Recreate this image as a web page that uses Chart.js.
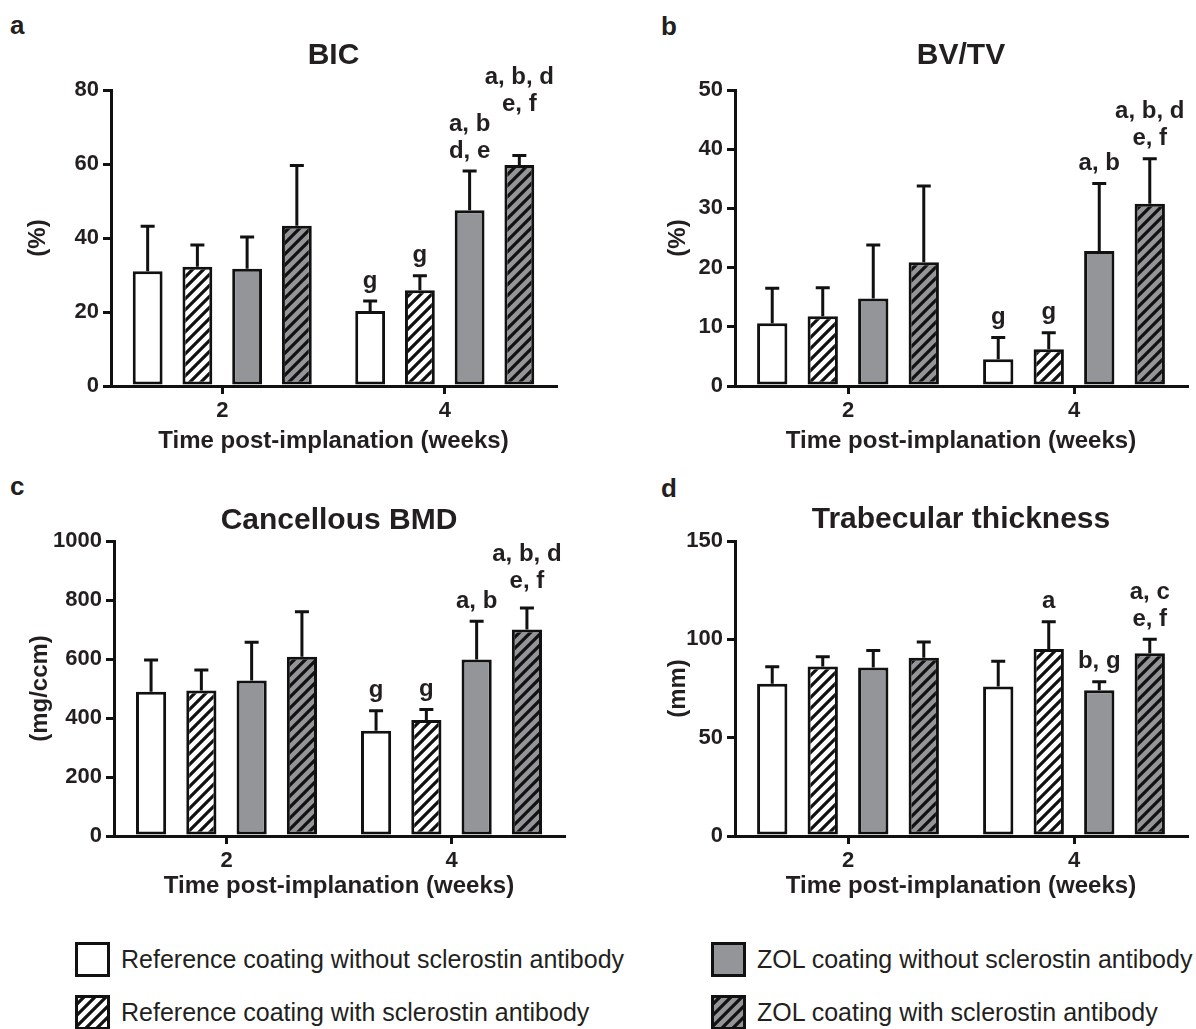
<!DOCTYPE html>
<html>
<head>
<meta charset="utf-8">
<script src="https://cdn.jsdelivr.net/npm/chart.js@4.4.1/dist/chart.umd.min.js"></script>
<style>
  body { margin: 0; background: #fff; }
  #page { position: relative; width: 1196px; height: 1029px; overflow: hidden;
          font-family: 'Liberation Sans', Arial, sans-serif; color: #231f20; }
  #page canvas.panel { position: absolute; }
  .letter { position: absolute; font-weight: bold; font-size: 26px; line-height: 26px; }
  .leg { position: absolute; display: flex; align-items: center; height: 35px; font-size: 25px; white-space: nowrap; }
  .leg canvas { margin-right: 11px; }
</style>
</head>
<body>
<div id="page">
  <div class="letter" style="left:10px;top:12px">a</div>
  <div class="letter" style="left:661px;top:13px">b</div>
  <div class="letter" style="left:10px;top:473px">c</div>
  <div class="letter" style="left:661px;top:475px">d</div>

  <canvas class="panel" id="bic" width="598" height="470" style="left:0;top:0"></canvas>
  <canvas class="panel" id="bvtv" width="598" height="470" style="left:598px;top:0"></canvas>
  <canvas class="panel" id="bmd" width="598" height="440" style="left:0;top:470px"></canvas>
  <canvas class="panel" id="tbth" width="598" height="440" style="left:598px;top:470px"></canvas>

  <div class="leg" style="left:75px;top:942px"><canvas width="35" height="35" data-k="0"></canvas>Reference coating without sclerostin antibody</div>
  <div class="leg" style="left:75px;top:995px"><canvas width="35" height="35" data-k="1"></canvas>Reference coating with sclerostin antibody</div>
  <div class="leg" style="left:711px;top:942px"><canvas width="35" height="35" data-k="2"></canvas>ZOL coating without sclerostin antibody</div>
  <div class="leg" style="left:711px;top:995px"><canvas width="35" height="35" data-k="3"></canvas>ZOL coating with sclerostin antibody</div>
</div>

<script>
// groups (one dataset each), weeks on the x axis
const groups = [
  'Reference coating without sclerostin antibody',
  'Reference coating with sclerostin antibody',
  'ZOL coating without sclerostin antibody',
  'ZOL coating with sclerostin antibody'
];
const weeks = ['2', '4'];

// mean and SD per group, [week 2, week 4]
const bicMean = [[31.0, 20.3], [32.2, 25.9], [31.7, 47.5], [43.3, 59.7]];
const bicSd   = [[12.2, 2.7],  [5.9, 3.9],   [8.6, 10.6],  [16.3, 2.6]];
const bicMarks = [[[], ['g']], [[], ['g']], [[], ['a, b', 'd, e']], [[], ['a, b, d', 'e, f']]];

const bvtvMean = [[10.6, 4.5], [11.8, 6.2], [14.8, 22.8], [20.9, 30.8]];
const bvtvSd   = [[5.9, 3.7],  [4.8, 2.8],  [9.0, 11.4],  [12.9, 7.6]];
const bvtvMarks = [[[], ['g']], [[], ['g']], [[], ['a, b']], [[], ['a, b, d', 'e, f']]];

const bmdMean = [[489, 357], [493, 393], [527, 598], [608, 700]];
const bmdSd   = [[108, 68],  [70, 36],   [130, 130], [152, 73]];
const bmdMarks = [[[], ['g']], [[], ['g']], [[], ['a, b']], [[], ['a, b, d', 'e, f']]];

const tbMean = [[77.4, 76.0], [86.2, 95.1], [85.7, 74.1], [90.6, 92.9]];
const tbSd   = [[8.6, 12.9],  [4.9, 13.8],  [8.6, 4.3],   [8.1, 7.1]];
const tbMarks = [[[], []], [[], ['a']], [[], ['b, g']], [[], ['a, c', 'e, f']]];

const INK = '#231f20';
const LINE = '#111111';
const GRAY = '#939598';
const FONT = "'Liberation Sans', Arial, sans-serif";

Chart.defaults.font.family = FONT;
Chart.defaults.color = INK;

function hatch(bg) {
  const P = 11;
  const c = document.createElement('canvas');
  c.width = P; c.height = P;
  const g = c.getContext('2d');
  g.fillStyle = bg;
  g.fillRect(0, 0, P, P);
  g.strokeStyle = LINE;
  g.lineWidth = 3.2;
  g.beginPath();
  g.moveTo(-2, P + 2); g.lineTo(P + 2, -2);
  g.moveTo(-2, 2); g.lineTo(2, -2);
  g.moveTo(P - 2, P + 2); g.lineTo(P + 2, P - 2);
  g.stroke();
  return g.createPattern(c, 'repeat');
}
const fills = ['#ffffff', hatch('#ffffff'), GRAY, hatch(GRAY)];

// upward SD whiskers
const errPlugin = {
  id: 'errbars',
  afterDatasetsDraw(chart) {
    const ctx = chart.ctx, y = chart.scales.y;
    ctx.save();
    ctx.strokeStyle = LINE;
    ctx.lineWidth = 3;
    chart.data.datasets.forEach((ds, i) => {
      chart.getDatasetMeta(i).data.forEach((bar, j) => {
        const yt = y.getPixelForValue(ds.data[j] + ds.sd[j]);
        ctx.beginPath();
        ctx.moveTo(bar.x, bar.y);
        ctx.lineTo(bar.x, yt);
        ctx.moveTo(bar.x - 7, yt);
        ctx.lineTo(bar.x + 7, yt);
        ctx.stroke();
      });
    });
    ctx.restore();
  }
};

// significance letters above the whiskers, lifted when they would collide
const marksPlugin = {
  id: 'marks',
  afterDraw(chart) {
    const ctx = chart.ctx, y = chart.scales.y;
    const lh = 27, half = 9;
    ctx.save();
    ctx.font = 'bold 24px ' + FONT;
    ctx.fillStyle = INK;
    ctx.textAlign = 'center';
    ctx.textBaseline = 'middle';
    const placed = [];
    chart.data.datasets.forEach((ds, i) => {
      chart.getDatasetMeta(i).data.forEach((bar, j) => {
        const lines = ds.marks[j];
        if (!lines.length) return;
        const w = Math.max(...lines.map(t => ctx.measureText(t).width));
        let base = y.getPixelForValue(ds.data[j] + ds.sd[j]) - 20;
        const l = bar.x - w / 2, r = bar.x + w / 2;
        placed.forEach(p => {
          const t = base - (lines.length - 1) * lh - half, b = base + half;
          if (l < p.r && r > p.l && t < p.b && b > p.t) base = p.t - 2 - half;
        });
        lines.forEach((t, k) => ctx.fillText(t, bar.x, base - (lines.length - 1 - k) * lh));
        placed.push({ l, r, t: base - (lines.length - 1) * lh - half, b: base + half });
      });
    });
    ctx.restore();
  }
};

function drawPanel(id, title, yTitle, max, step, mean, sd, marks, geo) {
  const cv = document.getElementById(id);
  const cw = cv.width, ch = cv.height;
  const tick = { drawOnChartArea: false, tickLength: 8, lineWidth: 3, color: LINE };
  new Chart(cv, {
    type: 'bar',
    data: {
      labels: weeks,
      datasets: groups.map((g, i) => ({
        label: g,
        data: mean[i],
        sd: sd[i],
        marks: marks[i],
        backgroundColor: fills[i],
        borderColor: LINE,
        borderWidth: 3,
        borderSkipped: false,
        categoryPercentage: 0.894,
        barPercentage: 0.6
      }))
    },
    options: {
      responsive: false,
      animation: false,
      layout: { padding: { left: 0, top: 0, bottom: 0, right: cw - geo.R } },
      plugins: {
        legend: { display: false },
        tooltip: { enabled: false },
        title: {
          display: true, text: title, fullSize: false, color: INK,
          font: { size: 30, weight: 'bold' },
          padding: { top: geo.titleY - 18, bottom: geo.T - geo.titleY - 18 }
        }
      },
      scales: {
        x: {
          grid: Object.assign({ offset: false }, tick),
          border: { width: 3, color: LINE },
          ticks: { color: INK, font: { size: 22, weight: 'bold' }, padding: 4 },
          title: {
            display: true, text: 'Time post-implanation (weeks)', color: INK,
            font: { size: 24, weight: 'bold' },
            padding: { top: 0, bottom: ch - geo.xTitleY - 14.4 }
          },
          afterFit: s => { s.height = ch - geo.B; }
        },
        y: {
          min: 0, max: max,
          grid: tick,
          border: { width: 3, color: LINE },
          ticks: { stepSize: step, color: INK, font: { size: 22, weight: 'bold' }, padding: 4,
                   callback: v => String(v) },
          title: {
            display: true, text: yTitle, color: INK,
            font: { size: 24, weight: 'bold' },
            padding: { top: geo.yTitleX - 14.4, bottom: 0 }
          },
          afterFit: s => { s.width = geo.L; }
        }
      }
    },
    plugins: [errPlugin, marksPlugin]
  });
}

drawPanel('bic', 'BIC', '(%)', 80, 20, bicMean, bicSd, bicMarks,
  { L: 111, R: 556, T: 90, B: 386, titleY: 56, xTitleY: 441, yTitleX: 38 });
drawPanel('bvtv', 'BV/TV', '(%)', 50, 10, bvtvMean, bvtvSd, bvtvMarks,
  { L: 137, R: 589, T: 90, B: 386, titleY: 56, xTitleY: 441, yTitleX: 80 });
drawPanel('bmd', 'Cancellous BMD', '(mg/ccm)', 1000, 200, bmdMean, bmdSd, bmdMarks,
  { L: 114, R: 564, T: 71, B: 366, titleY: 51, xTitleY: 416, yTitleX: 40 });
drawPanel('tbth', 'Trabecular thickness', '(mm)', 150, 50, tbMean, tbSd, tbMarks,
  { L: 137, R: 589, T: 71, B: 366, titleY: 50, xTitleY: 416, yTitleX: 80 });

// legend swatches
document.querySelectorAll('.leg canvas').forEach(c => {
  const g = c.getContext('2d');
  g.fillStyle = fills[+c.dataset.k];
  g.fillRect(0, 0, c.width, c.height);
  g.strokeStyle = LINE;
  g.lineWidth = 3;
  g.strokeRect(1.5, 1.5, c.width - 3, c.height - 3);
});
</script>
</body>
</html>
